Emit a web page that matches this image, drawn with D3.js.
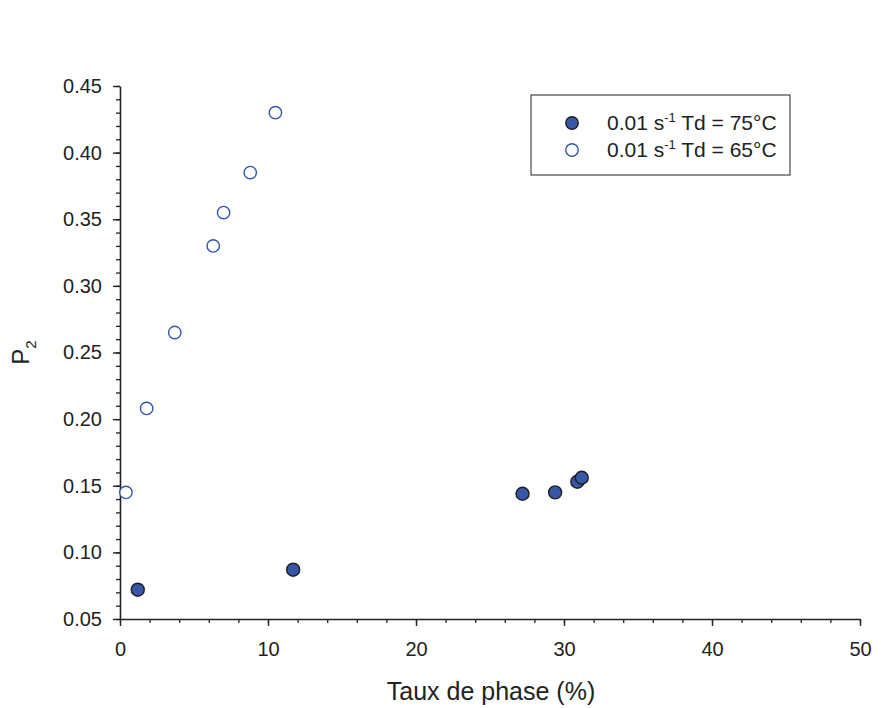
<!DOCTYPE html>
<html>
<head>
<meta charset="utf-8">
<script src="https://cdn.jsdelivr.net/npm/d3@7"></script>
<style>
  body { margin: 0; background: #fff; }
  text { font-family: "Liberation Sans", Arial, sans-serif; fill: #222; }
</style>
</head>
<body>
<div id="chart"></div>
<script>
// data
var series = ["0.01 s-1 Td = 75°C", "0.01 s-1 Td = 65°C"];
var td75X = [1.2, 11.7, 27.2, 29.4, 30.9, 31.2];
var td75Y = [0.072, 0.087, 0.144, 0.145, 0.153, 0.156];
var td65X = [0.4, 1.8, 3.7, 6.3, 7.0, 8.8, 10.5];
var td65Y = [0.145, 0.208, 0.265, 0.330, 0.355, 0.385, 0.430];
var xTicks = [0, 10, 20, 30, 40, 50];
var yTicks = [0.05, 0.10, 0.15, 0.20, 0.25, 0.30, 0.35, 0.40, 0.45];

var W = 889, H = 708;
var margin = { top: 86, right: 29, bottom: 89, left: 120 };
var width = W - margin.left - margin.right;
var height = H - margin.top - margin.bottom;

var svg = d3.select("#chart").append("svg")
  .attr("width", W)
  .attr("height", H);

var g = svg.append("g")
  .attr("transform", "translate(" + margin.left + "," + margin.top + ")");

var x = d3.scaleLinear().domain([0, 50]).range([0, width]);
var y = d3.scaleLinear().domain([0.05, 0.45]).range([height, 0]);

// minor ticks first, then major axes on top
var xMinor = d3.range(0, 50.001, 2);
var yMinor = d3.range(0, 41).map(function (i) { return 0.05 + i * 0.01; });

g.append("g")
  .attr("transform", "translate(0," + height + ")")
  .call(d3.axisBottom(x).tickValues(xMinor).tickSize(4).tickFormat(""))
  .call(function (a) { a.select(".domain").remove(); a.selectAll("line").attr("stroke", "#222").attr("stroke-width", 1.3); });

g.append("g")
  .call(d3.axisLeft(y).tickValues(yMinor).tickSize(4).tickFormat(""))
  .call(function (a) { a.select(".domain").remove(); a.selectAll("line").attr("stroke", "#222").attr("stroke-width", 1.3); });

var xAxis = g.append("g")
  .attr("transform", "translate(0," + height + ")")
  .call(d3.axisBottom(x).tickValues(xTicks).tickSizeInner(7).tickSizeOuter(0).tickPadding(16).tickFormat(d3.format("d")));

var yAxis = g.append("g")
  .call(d3.axisLeft(y).tickValues(yTicks).tickSizeInner(7).tickSizeOuter(0).tickPadding(11).tickFormat(d3.format(".2f")));

[xAxis, yAxis].forEach(function (a) {
  a.select(".domain").attr("stroke", "#222").attr("stroke-width", 1.6);
  a.selectAll("line").attr("stroke", "#222").attr("stroke-width", 1.4);
  a.selectAll("text").attr("font-size", 20).style("fill", "#222")
    .attr("font-family", "'Liberation Sans', Arial, sans-serif");
});

// axis titles
svg.append("text")
  .attr("x", 491)
  .attr("y", 700)
  .attr("text-anchor", "middle")
  .attr("font-size", 25)
  .text("Taux de phase (%)");

var yt = svg.append("text")
  .attr("transform", "translate(29," + (margin.top + height / 2) + ") rotate(-90)")
  .attr("text-anchor", "middle")
  .attr("font-size", 24);
yt.append("tspan").text("P");
yt.append("tspan").attr("font-size", 15).attr("dy", 7).text("2");

// points
var filled = td75X.map(function (d, i) { return { x: d, y: td75Y[i] }; });
var open = td65X.map(function (d, i) { return { x: d, y: td65Y[i] }; });

g.append("g").selectAll("circle")
  .data(open)
  .enter().append("circle")
  .attr("cx", function (d) { return x(d.x); })
  .attr("cy", function (d) { return y(d.y); })
  .attr("r", 6.2)
  .attr("fill", "#fff")
  .attr("stroke", "#3355aa")
  .attr("stroke-width", 1.4);

g.append("g").selectAll("circle")
  .data(filled)
  .enter().append("circle")
  .attr("cx", function (d) { return x(d.x); })
  .attr("cy", function (d) { return y(d.y); })
  .attr("r", 6.5)
  .attr("fill", "#3656a8")
  .attr("stroke", "#1e1e1e")
  .attr("stroke-width", 1.4);

// legend
var leg = svg.append("g");
leg.append("rect")
  .attr("x", 531).attr("y", 95)
  .attr("width", 259).attr("height", 80)
  .attr("fill", "#fff")
  .attr("stroke", "#222")
  .attr("stroke-width", 1);

var legRows = [
  { fill: "#3656a8", stroke: "#1e1e1e", label: series[0] },
  { fill: "#fff", stroke: "#3355aa", label: series[1] }
];
legRows.forEach(function (r, i) {
  var cy = 123 + i * 27;
  leg.append("circle")
    .attr("cx", 572).attr("cy", cy).attr("r", 6.2)
    .attr("fill", r.fill).attr("stroke", r.stroke).attr("stroke-width", 1.4);
  var t = leg.append("text")
    .attr("x", 607).attr("y", cy + 7)
    .attr("font-size", 21);
  t.append("tspan").text("0.01 s");
  t.append("tspan").attr("font-size", 13).attr("dy", -8).text("-1");
  t.append("tspan").attr("dy", 8).text(" Td = " + (i === 0 ? "75" : "65") + "°C");
});
</script>
</body>
</html>
